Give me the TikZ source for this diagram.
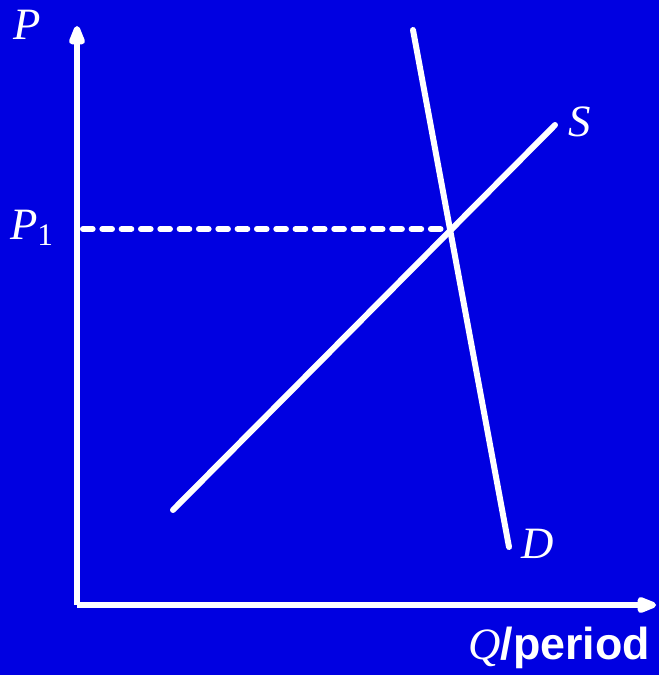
\documentclass[tikz,border=0pt]{standalone}
\usepackage{fontspec}
\setmainfont{Liberation Serif}
\newfontfamily\labelsans{Liberation Sans}
\usetikzlibrary{arrows.meta}
\definecolor{bgblue}{HTML}{0000E1}

\begin{document}
\begin{tikzpicture}[x=0.02cm, y=-0.02cm, line width=3.4pt,
  >={Triangle[length=14pt, width=9.5pt, round]},
  lbl/.style={text=white, font=\fontsize{25.5}{30}\selectfont, inner sep=0pt}]

% Background
\fill[bgblue] (0,0) rectangle (659,675);
\useasboundingbox (0,0) rectangle (659,675);

% =========== Axes ===========
\coordinate (origin) at (77,605);
\coordinate (ptop) at (77,26);
\coordinate (qend) at (656,605);
\draw[white, ->] (origin) -- (ptop);
\draw[white, ->] (origin) -- (qend);

\node[lbl] (plabel) at (27,25) {\textit{P}};
\node[lbl, anchor=east] (qlabel) at (653,648) {\textit{Q}{\labelsans\bfseries /period}};

% =========== Supply and demand ===========
\coordinate (stop) at (555,125);
\coordinate (sbot) at (173,510);
\coordinate (dtop) at (413,30);
\coordinate (dbot) at (509,547);
\draw[white, line cap=round] (sbot) -- (stop);
\draw[white, line cap=round] (dtop) -- (dbot);

\node[lbl] (slabel) at (580,122) {\textit{S}};
\node[lbl] (dlabel) at (538,544) {\textit{D}};

% =========== Equilibrium price ===========
\coordinate (paxis) at (83,229);
\coordinate (eq) at (451,229);
\draw[white, line cap=round, dash pattern=on 5.5pt off 5.5pt] (paxis) -- (eq);

\node[lbl] (p1label) at (32,228) {\textit{P}\textsubscript{1}};

\end{tikzpicture}
\end{document}
